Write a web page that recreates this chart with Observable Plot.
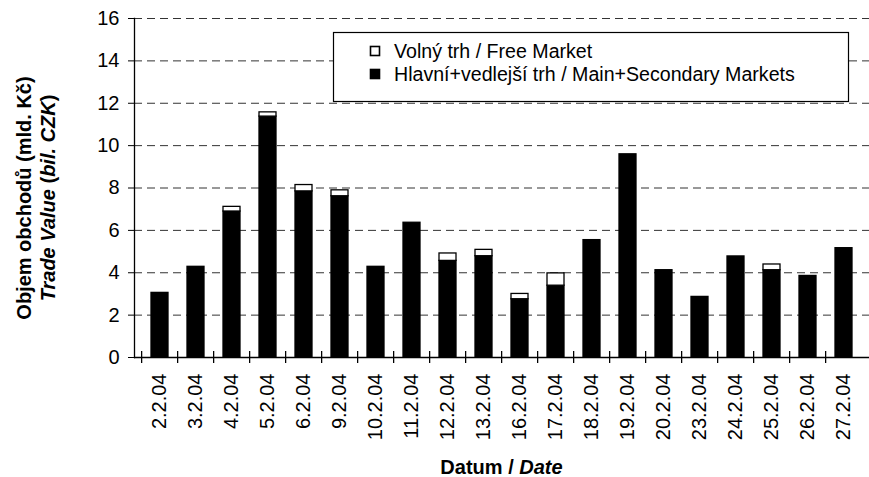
<!DOCTYPE html>
<html>
<head>
<meta charset="utf-8">
<script src="https://cdn.jsdelivr.net/npm/d3@7"></script>
<script src="https://cdn.jsdelivr.net/npm/@observablehq/plot@0.6"></script>
<style>
  html, body { margin: 0; padding: 0; background: white; }
  svg { display: block; }
</style>
</head>
<body>
<div id="chart"></div>
<script>
const dates = ["2.2.04","3.2.04","4.2.04","5.2.04","6.2.04","9.2.04","10.2.04","11.2.04","12.2.04","13.2.04","16.2.04","17.2.04","18.2.04","19.2.04","20.2.04","23.2.04","24.2.04","25.2.04","26.2.04","27.2.04"];
const mainMarkets = [3.05, 4.28, 6.89, 11.37, 7.84, 7.61, 4.28, 6.36, 4.56, 4.78, 2.75, 3.39, 5.54, 9.59, 4.12, 2.86, 4.77, 4.12, 3.85, 5.16];
const freeMarket  = [0, 0, 0.22, 0.20, 0.30, 0.28, 0, 0, 0.35, 0.30, 0.25, 0.58, 0, 0, 0, 0, 0, 0.27, 0, 0];
const seriesNames = ["Hlavní+vedlejší trh / Main+Secondary Markets", "Volný trh / Free Market"];
const yTicks = [0, 2, 4, 6, 8, 10, 12, 14, 16];
const gridTicks = [2, 4, 6, 8, 10, 12, 14, 16];

const table = [];
dates.forEach((d, i) => {
  table.push({date: d, series: seriesNames[0], value: mainMarkets[i]});
  table.push({date: d, series: seriesNames[1], value: freeMarket[i]});
});

const W = 869, H = 477, mL = 134, mR = 0, mT = 18, mB = 120;
const step = (W - mL - mR) / dates.length;
const unitPx = (H - mT - mB) / 16;
const tickHalf = 6 / unitPx; // 6px tick half-length expressed in y units
const FONT = "'Liberation Sans', Arial, Helvetica, sans-serif";

const chart = Plot.plot({
  width: W, height: H,
  marginLeft: mL, marginRight: mR, marginTop: mT, marginBottom: mB,
  style: {fontFamily: FONT, fontSize: "20px", background: "white", color: "black", overflow: "visible"},
  x: {domain: dates, paddingInner: 0.54, paddingOuter: 0.27, label: null},
  y: {domain: [0, 16], label: null},
  color: {domain: seriesNames, range: ["black", "white"]},
  marks: [
    Plot.ruleY(gridTicks, {stroke: "#333", strokeDasharray: "8,5", strokeWidth: 1}),
    Plot.barY(table, {x: "date", y: "value", fill: "series", stroke: "black", strokeWidth: 1.3}),
    Plot.ruleY([0], {stroke: "black", strokeWidth: 1.3}),
    Plot.frame({anchor: "left", stroke: "black", strokeWidth: 1.3}),
    Plot.axisY({ticks: yTicks, tickSize: 6, tickPadding: 9, tickFormat: d => d, label: null, fontSize: 20}),
    Plot.axisX({tickSize: 0, tickPadding: 16, tickRotate: -90, label: null, fontSize: 20}),
    Plot.ruleX(dates, {x: d => d, y1: -tickHalf, y2: tickHalf, dx: -step / 2, stroke: "black", strokeWidth: 1.3, clip: false})
  ]
});

document.getElementById("chart").appendChild(chart);

const svg = d3.select(chart);

// Y axis title (two lines)
svg.append("text")
  .attr("transform", "translate(24,198) rotate(-90)")
  .attr("text-anchor", "middle").attr("dy", "0.35em")
  .attr("font-family", FONT).attr("font-size", 20).attr("font-weight", "bold")
  .text("Objem obchodů (mld. Kč)");
const t2 = svg.append("text")
  .attr("transform", "translate(48,198) rotate(-90)")
  .attr("text-anchor", "middle").attr("dy", "0.35em")
  .attr("font-family", FONT).attr("font-size", 20).attr("font-weight", "bold");
t2.append("tspan").attr("font-style", "italic").text("Trade Value");
t2.append("tspan").text(" (");
t2.append("tspan").attr("font-style", "italic").text("bil. CZK");
t2.append("tspan").text(")");

// X axis title
const xt = svg.append("text")
  .attr("x", mL + (W - mL - mR) / 2).attr("y", 467)
  .attr("text-anchor", "middle").attr("dy", "0.35em")
  .attr("font-family", FONT).attr("font-size", 20).attr("font-weight", "bold");
xt.append("tspan").text("Datum / ");
xt.append("tspan").attr("font-style", "italic").text("Date");

// Legend
const lg = svg.append("g").attr("font-family", FONT).attr("font-size", 19.6).attr("text-anchor", "start");
lg.append("rect").attr("x", 333.5).attr("y", 32.5).attr("width", 515).attr("height", 69)
  .attr("fill", "white").attr("stroke", "black").attr("stroke-width", 1.2);
const legendItems = [
  {label: seriesNames[1], fill: "white", y: 51},
  {label: seriesNames[0], fill: "black", y: 74}
];
legendItems.forEach(it => {
  lg.append("rect").attr("x", 370.5).attr("y", it.y - 4.5).attr("width", 9).attr("height", 9)
    .attr("fill", it.fill).attr("stroke", "black").attr("stroke-width", 1.6);
  lg.append("text").attr("x", 394).attr("y", it.y).attr("dy", "0.35em")
    .attr("text-anchor", "start").attr("fill", "black").text(it.label);
});
</script>
</body>
</html>
